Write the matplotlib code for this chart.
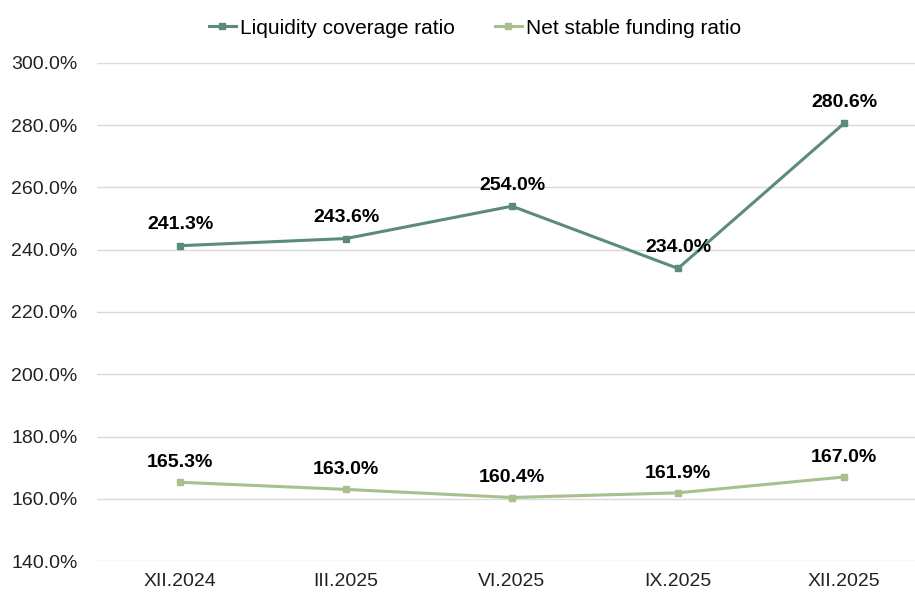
import matplotlib
matplotlib.use("Agg")
import matplotlib.pyplot as plt
from matplotlib.ticker import FuncFormatter

# data
periods = ["XII.2024", "III.2025", "VI.2025", "IX.2025", "XII.2025"]
lcr = [241.3, 243.6, 254.0, 234.0, 280.6]
nsfr = [165.3, 163.0, 160.4, 161.9, 167.0]

plt.rcParams['font.family'] = ['Liberation Sans', 'DejaVu Sans']

dark = "#5B8B79"
light = "#A8C08E"

fig = plt.figure(figsize=(9.15, 5.98), dpi=100)
ax = fig.add_axes([97 / 915, 37 / 598, 1 - 97 / 915, (561 - 63) / 598])

x = list(range(len(periods)))
ax.plot(x, lcr, color=dark, lw=2.2, marker="s", ms=5, label="Liquidity coverage ratio")
ax.plot(x, nsfr, color=light, lw=2.2, marker="s", ms=5, label="Net stable funding ratio")

for xi, v in zip(x, lcr):
    ax.annotate(f"{v:.1f}%", (xi, v), xytext=(0, 9), textcoords="offset points",
                ha="center", va="bottom", fontsize=14, fontweight="bold")
for xi, v in zip(x, nsfr):
    ax.annotate(f"{v:.1f}%", (xi, v), xytext=(0, 8), textcoords="offset points",
                ha="center", va="bottom", fontsize=14, fontweight="bold")

ax.set_ylim(140, 300)
ax.set_yticks(range(140, 301, 20))
ax.yaxis.set_major_formatter(FuncFormatter(lambda v, p: f"{v:.1f}%"))
ax.set_xlim(-0.5, (915 - 180) / 166)
ax.set_xticks(x)
ax.set_xticklabels(periods)
ax.grid(axis="y", color="#D9D9D9", lw=1)
ax.set_axisbelow(True)
for s in ax.spines.values():
    s.set_visible(False)
ax.tick_params(length=0, labelsize=14, colors="#222222")
ax.tick_params(axis="y", pad=14)
ax.tick_params(axis="x", pad=9)

fig.legend(loc="upper center", bbox_to_anchor=(0.519, 1.0), ncol=2, frameon=False,
           fontsize=15, handlelength=1.3, handletextpad=0.2, columnspacing=1.9)

fig.savefig("out.png", dpi=100)
